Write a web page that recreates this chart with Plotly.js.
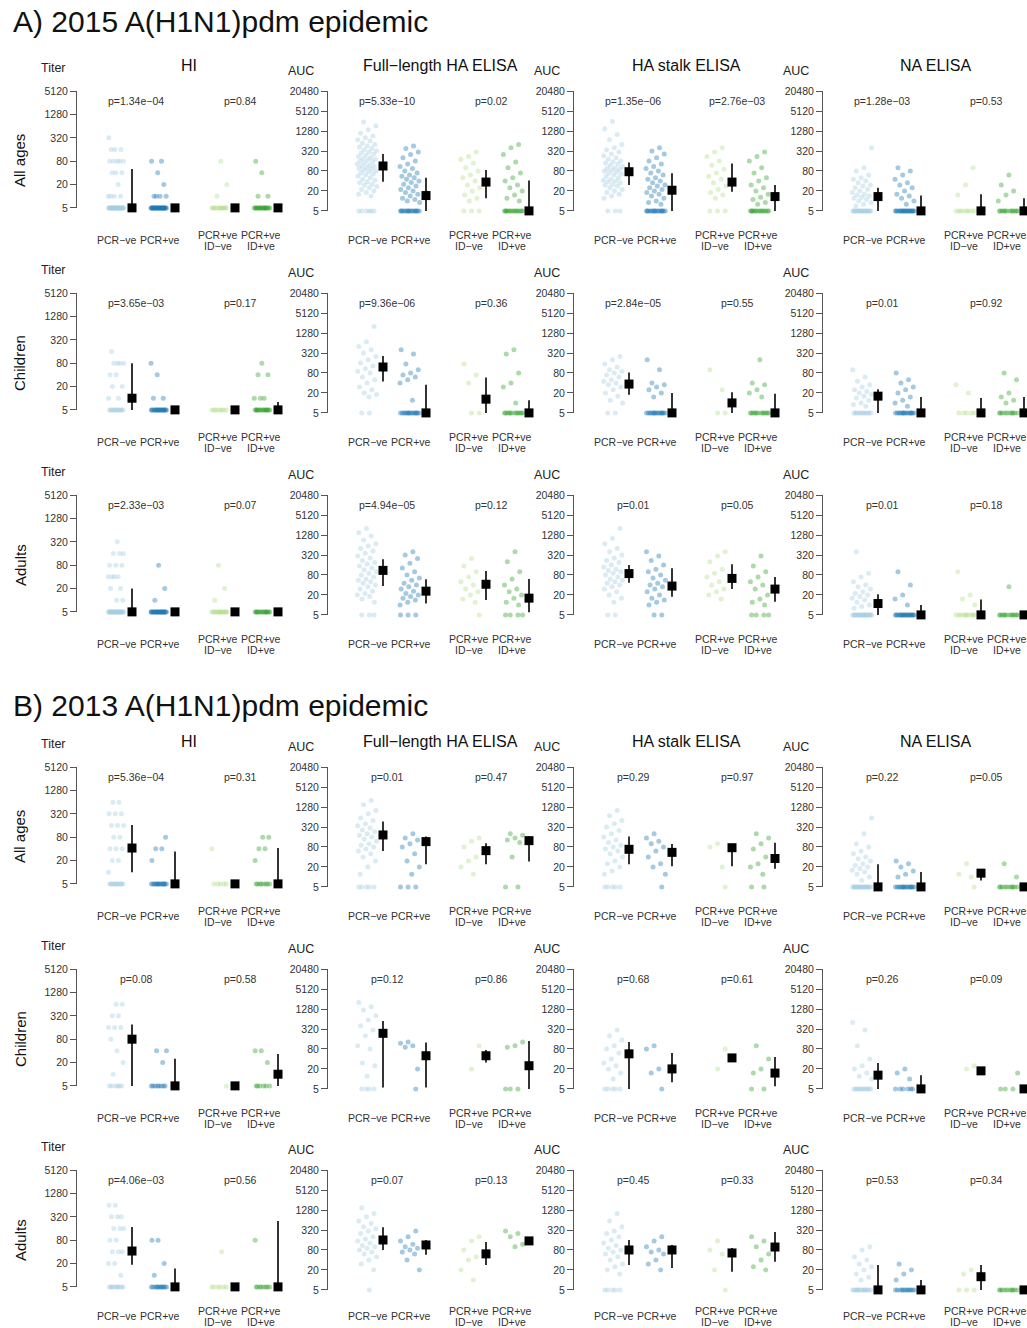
<!DOCTYPE html>
<html><head><meta charset="utf-8">
<script src="https://cdn.plot.ly/plotly-3.0.1.min.js"></script>
<style>html,body{margin:0;padding:0;background:#fff}</style>
</head><body><div id="chart" style="width:1027px;height:1328px"></div>
<script>
// ---------------- DATA ----------------
// HI groups: frequency tables [[titer, count], ...]
// ELISA groups: [number of samples at detection floor (5), [other AUC values]]
// Group order: PCR-ve, PCR+ve, PCR+ve ID-ve, PCR+ve ID+ve
// *_ci : [median, lower CI, upper CI] for each group

const groupLabels = [["PCR−ve"], ["PCR+ve"], ["PCR+ve", "ID−ve"], ["PCR+ve", "ID+ve"]];
const assayTitles = ["HI", "Full−length HA ELISA", "HA stalk ELISA", "NA ELISA"];
const rowLabels = ["All ages", "Children", "Adults"];
const sectionTitles = ["A) 2015 A(H1N1)pdm epidemic", "B) 2013 A(H1N1)pdm epidemic"];
const hiTicks = [5, 20, 80, 320, 1280, 5120];
const aucTicks = [5, 20, 80, 320, 1280, 5120, 20480];

// ===== A) 2015, All ages =====
const A_all_HI = [[[5,30],[10,4],[20,1],[40,3],[80,5],[160,3],[320,1]], [[5,30],[10,4],[20,1],[40,1],[80,2]], [[5,12],[10,1],[20,1],[80,1]], [[5,18],[10,2],[40,1],[80,1]]];
const A_all_HI_ci = [[5,5,50],[5,5,5],[5,5,5],[5,5,5]];
const A_all_FL = [[6,[2400,1800,1400,1100,900,800,700,640,560,500,450,420,380,350,320,300,280,260,240,220,200,190,180,170,160,150,140,130,120,115,110,100,95,90,85,80,75,70,65,60,55,50,45,42,38,35,32,30,27,25,22,20,18,16,14]],
  [16,[450,380,300,250,200,160,130,110,95,80,70,60,55,50,45,40,36,32,28,25,22,20,18,16,14,12,11,10,9]],
  [3,[300,220,180,140,100,80,60,50,40,30,25,20,15,12,10]],
  [14,[500,400,250,150,100,70,50,40,30,25,20,15,12,10]]];
const A_all_FL_ci = [[113,38,260],[14.5,5,50],[37,12,86],[5,5,41]];
const A_all_ST = [[3,[2500,1500,1000,700,500,400,350,300,260,230,200,180,160,150,140,130,120,110,100,95,90,85,80,75,70,65,60,55,50,45,42,40,38,35,32,30,28,25,22,20,18,16,14,12]],
  [16,[400,320,260,200,160,130,110,95,80,70,60,50,45,40,35,30,28,25,22,20,18,16,14,12,10,9,8]],
  [3,[400,300,220,160,120,90,70,55,45,35,28,22,18,15,12]],
  [14,[300,220,160,100,70,50,40,30,25,20,16,13,11,9,8]]];
const A_all_ST_ci = [[76,30,143],[21,5,68],[37,19,135],[13.5,5,30]];
const A_all_NA = [[20,[400,100,80,60,50,45,40,35,30,28,25,22,20,18,16,15,14,13,12,11,10,9,8,7]],
  [20,[100,80,60,45,35,30,25,20,16,14,12,10,8]],
  [8,[100,30,15]],
  [12,[60,30,20,15,10]]];
const A_all_NA_ci = [[13.5,5,25],[5,5,14.5],[5,5,16],[5,5,12]];
const pA_all = ["1.34e−04","0.84","5.33e−10","0.02","1.35e−06","2.76e−03","1.28e−03","0.53"];

// ===== A) 2015, Children =====
const A_ch_HI = [[[5,12],[10,2],[20,2],[40,2],[80,4],[160,1]], [[5,20],[10,2],[40,1],[80,1]], [[5,8]], [[5,15],[10,3],[40,2],[80,1]]];
const A_ch_HI_ci = [[10,5,80],[5,5,5],[5,5,5],[5,5,8]];
const A_ch_FL = [[2,[2000,700,500,400,320,250,200,160,130,110,90,80,60,50,40,30,25,20,18,15]],
  [15,[400,300,150,100,80,70,60,50,40,12]],
  [2,[150,70,40]],
  [12,[400,300,80,40,30,10]]];
const A_ch_FL_ci = [[121,44,260],[5,5,35],[13,5,58],[5,5,12]];
const A_ch_ST = [[2,[250,200,150,120,100,90,80,70,60,50,45,40,35,30,25,20,16,12,10]],
  [15,[200,100,40,35,30,25,20,15]],
  [2,[100,25]],
  [12,[200,40,35,25,20,15]]];
const A_ch_ST_ci = [[37,17.5,82],[5,5,20],[10,5,21],[5,5,19]];
const A_ch_NA = [[12,[100,60,45,35,30,25,22,20,18,16,14,12,10,9,8]],
  [15,[80,50,40,30,25,20,15,12,10,8]],
  [5,[35,20]],
  [10,[80,50,20,15,12,10]]];
const A_ch_NA_ci = [[16,5,26],[5,5,15],[5,5,14],[5,5,15]];
const pA_ch = ["3.65e−03","0.17","9.36e−06","0.36","2.84e−05","0.55","0.01","0.92"];

// ===== A) 2015, Adults =====
const A_ad_HI = [[[5,28],[10,2],[20,2],[40,4],[80,3],[160,3],[320,1]], [[5,25],[10,1],[20,1],[80,1]], [[5,15],[10,1],[20,1],[80,1]], [[5,15]]];
const A_ad_HI_ci = [[5,5,20],[5,5,5],[5,5,5],[5,5,5]];
const A_ad_FL = [[3,[2000,1500,1200,900,700,600,500,420,360,300,260,220,190,170,150,130,115,100,90,80,70,60,55,50,45,40,35,30,26,22,20,18,15,12]],
  [3,[400,320,250,180,130,100,80,65,55,45,40,35,30,26,22,20,18,16,14,12,10]],
  [1,[250,150,100,70,50,40,30,25,20,15,12]],
  [4,[400,200,100,60,40,30,25,20,16,12,10]]];
const A_ad_FL_ci = [[110,37,237],[26,11,59],[42,14,105],[16,6,60]];
const A_ad_ST = [[2,[2000,1000,700,500,400,320,260,220,190,160,140,120,110,100,90,80,70,60,55,50,45,40,35,30,25,20,16,12]],
  [2,[400,300,220,160,120,100,80,65,55,45,40,35,30,25,20,16,14,12,10]],
  [0,[400,300,200,120,90,70,50,40,30,25,20,15]],
  [4,[300,150,100,70,50,40,30,20,15,12,10]]];
const A_ad_ST_ci = [[88,47,160],[37,17.5,127],[63,30,167],[30,12.5,70]];
const A_ad_NA = [[22,[400,90,70,50,40,35,30,25,22,20,18,16,14,12,10,9,8]],
  [20,[100,40,20,15,10]],
  [10,[100,20,15,10]],
  [12,[35]]];
const A_ad_NA_ci = [[11,5,21],[5,5,10],[5,5,14.5],[5,5,5]];
const pA_ad = ["2.33e−03","0.07","4.94e−05","0.12","0.01","0.05","0.01","0.18"];

// ===== B) 2013, All ages =====
const B_all_HI = [[[5,12],[10,1],[20,2],[40,3],[80,2],[160,3],[320,3],[640,2]], [[5,15],[20,1],[40,2],[80,1]], [[5,5],[40,1]], [[5,8],[20,1],[40,2],[80,2]]];
const B_all_HI_ci = [[42,10,165],[5,5,34],[5,5,5],[5,5,42]];
const B_all_FL = [[5,[2000,1500,1000,800,600,500,400,350,300,260,230,200,180,160,140,120,100,90,80,70,60,50,40,30,20,12]],
  [3,[200,150,130,100,80,50,30,20,12]],
  [0,[150,120,80,40,30,20,12]],
  [2,[200,180,150,130,110,40]]];
const B_all_FL_ci = [[184,60,465],[116,24,165],[62,24,103],[124,29,165]];
const B_all_ST = [[5,[1000,700,500,400,320,250,200,160,130,110,90,80,70,60,50,40,30,25,20,15,12]],
  [1,[200,150,120,100,80,60,40,25,20,12]],
  [1,[100,80,20]],
  [2,[200,150,100,70,40,25,20,12]]];
const B_all_ST_ci = [[68,24,165],[55,21,98],[76,21,90],[36,17.5,108]];
const B_all_NA = [[20,[600,200,100,80,60,50,40,35,30,25,22,20,18,16,14,12,10,8]],
  [15,[30,25,20,15,12,10]],
  [1,[25,12,10]],
  [10,[25,10]]];
const B_all_NA_ci = [[5,5,24],[5,5,14],[13,7.8,16],[5,5,5]];
const pB_all = ["5.36e−04","0.31","0.01","0.47","0.29","0.97","0.22","0.05"];

// ===== B) 2013, Children =====
const B_ch_HI = [[[5,6],[10,1],[20,1],[40,1],[80,1],[160,3],[320,2],[640,2]], [[5,8],[20,1],[40,2]], [[5,1]], [[5,6],[20,1],[40,2]]];
const B_ch_HI_ci = [[80,5,190],[5,5,25],[5,5,5],[10,5,33]];
const B_ch_FL = [[4,[2000,1500,1200,800,600,400,300,200,100,80,30,25,12]],
  [1,[130,120,100,90,20]],
  [0,[100,20]],
  [3,[130,100,90]]];
const B_ch_FL_ci = [[237,5.5,555],[50,5.5,126],[50,31,75],[25,5,140]];
const B_ch_ST = [[5,[300,200,150,100,80,60,40,30,25,20,15,10]],
  [1,[100,80,20,15]],
  [0,[80,20]],
  [2,[100,40,20,15]]];
const B_ch_ST_ci = [[57,5,130],[20,8,60],[43,35,55],[15,6,46]];
const B_ch_NA = [[12,[500,300,100,40,25,20,15,12,10]],
  [6,[20,15,10]],
  [0,[25,20]],
  [3,[15]]];
const B_ch_NA_ci = [[13,5,30],[5,5,13],[17.5,17.5,17.5],[5,5,5]];
const pB_ch = ["0.08","0.58","0.12","0.86","0.68","0.61","0.26","0.09"];

// ===== B) 2013, Adults =====
const B_ad_HI = [[[5,10],[10,1],[20,2],[40,3],[80,2],[160,3],[320,3],[640,2]], [[5,12],[10,1],[20,1],[80,2]], [[5,6],[40,1]], [[5,8],[80,1]]];
const B_ad_HI_ci = [[42,18.5,175],[5,5,15],[5,5,5],[5,5,250]];
const B_ad_FL = [[1,[1500,1000,800,600,500,400,350,300,250,200,170,150,130,110,100,90,80,70,60,50,40,30,20]],
  [0,[300,200,150,120,100,90,80,70,60,40,20]],
  [0,[200,150,80,50,40,20,10]],
  [0,[300,250,200,120,100]]];
const B_ad_FL_ci = [[160,80,390],[113,57,160],[61,28,139],[150,150,150]];
const B_ad_ST = [[5,[1000,600,400,300,250,200,160,130,110,90,80,70,60,50,40,30,25,20,15]],
  [0,[200,150,100,80,70,60,40,30,20]],
  [1,[150,80,60,20]],
  [0,[200,150,100,60,40,25,20]]];
const B_ad_ST_ci = [[80,28,160],[80,23,113],[65,17.5,92],[98,35,280]];
const B_ad_NA = [[15,[100,80,50,40,30,25,20,15,12,10]],
  [12,[30,20,15,10]],
  [3,[20,15]],
  [10,[]]];
const B_ad_NA_ci = [[5,5,28],[5,5,10],[12.5,5,28],[5,5,5]];
const pB_ad = ["4.06e−03","0.56","0.07","0.13","0.45","0.33","0.53","0.34"];

// ---------------- LAYOUT / DRAWING ----------------
const W = 1027, H = 1328;
const FONT = '"Liberation Sans", Arial, Helvetica, sans-serif';
const colors = ['rgb(166,206,227)','rgb(31,120,180)','rgb(178,223,138)','rgb(51,160,44)'];
const axisX = [77, 328, 574, 823];
const grpOff = [39, 82, 142, 185], sqOff = 16;
const pOff = [59, 163];
const EPS = 0.003; // tiny log-range padding so that points at the axis ends stay visible

const sections = [
  {title: sectionTitles[0], titleY: 22, panelTitleY: 65, rowTops: [91, 293, 495],
   rows: [
     {p: pA_all, d: [A_all_HI, A_all_FL, A_all_ST, A_all_NA], ci: [A_all_HI_ci, A_all_FL_ci, A_all_ST_ci, A_all_NA_ci]},
     {p: pA_ch, d: [A_ch_HI, A_ch_FL, A_ch_ST, A_ch_NA], ci: [A_ch_HI_ci, A_ch_FL_ci, A_ch_ST_ci, A_ch_NA_ci]},
     {p: pA_ad, d: [A_ad_HI, A_ad_FL, A_ad_ST, A_ad_NA], ci: [A_ad_HI_ci, A_ad_FL_ci, A_ad_ST_ci, A_ad_NA_ci]}]},
  {title: sectionTitles[1], titleY: 705, panelTitleY: 741, rowTops: [767, 969, 1170],
   rows: [
     {p: pB_all, d: [B_all_HI, B_all_FL, B_all_ST, B_all_NA], ci: [B_all_HI_ci, B_all_FL_ci, B_all_ST_ci, B_all_NA_ci]},
     {p: pB_ch, d: [B_ch_HI, B_ch_FL, B_ch_ST, B_ch_NA], ci: [B_ch_HI_ci, B_ch_FL_ci, B_ch_ST_ci, B_ch_NA_ci]},
     {p: pB_ad, d: [B_ad_HI, B_ad_FL, B_ad_ST, B_ad_NA], ci: [B_ad_HI_ci, B_ad_FL_ci, B_ad_ST_ci, B_ad_NA_ci]}]}
];

function frac(x){ return x - Math.floor(x); }
function PX(x){ return x / W; }
function PY(y){ return 1 - y / H; }

const traces = [];
const ann = [];
const layout = {
  width: W, height: H, margin: {l:0, r:0, t:0, b:0},
  paper_bgcolor: '#fff', plot_bgcolor: 'rgba(0,0,0,0)',
  showlegend: false, font: {family: FONT, color: '#222'},
  hovermode: false
};

function txt(text, x, y, size, color, opts){
  return Object.assign({text: text, x: PX(x), y: PY(y), xref: 'paper', yref: 'paper',
    showarrow: false, xanchor: 'center', yanchor: 'middle',
    font: {family: FONT, size: size, color: color}}, opts || {});
}

let n = 0;
sections.forEach(sec => {
  ann.push(txt(sec.title, 11, sec.titleY, 30, '#111', {xanchor: 'left'}));
  assayTitles.forEach((t, c) => ann.push(txt(t, axisX[c] + 112, sec.panelTitleY, 16, '#111')));
  sec.rows.forEach((row, r) => {
    const top = sec.rowTops[r];
    ann.push(txt(rowLabels[r], 20, top + 70, 15, '#111', {textangle: -90}));
    // keep the two-line labels of the lowest row inside the page
    const shift = Math.max(0, top + 155 + 6 - H);
    for (let c = 0; c < 4; c++) {
      n++;
      const sfx = n > 1 ? String(n) : '';
      const xa = 'x' + sfx, ya = 'y' + sfx;
      const isHI = c === 0;
      const ticks = isHI ? hiTicks : aucTicks;
      const bottom = top + (isHI ? 117 : 120);
      layout['xaxis' + sfx] = {domain: [PX(axisX[c]), PX(axisX[c] + 204)], range: [0, 204],
        visible: false, anchor: ya, fixedrange: true};
      layout['yaxis' + sfx] = {domain: [PY(bottom), PY(top)], type: 'log',
        range: [Math.log10(ticks[0]) - EPS, Math.log10(ticks[ticks.length - 1]) + EPS], anchor: xa,
        tickvals: ticks, ticktext: ticks.map(String), showline: true, linecolor: '#555', linewidth: 1,
        ticks: 'outside', ticklen: 6, tickcolor: '#555', tickwidth: 1, showgrid: false, zeroline: false,
        tickfont: {family: FONT, size: 10.5, color: '#333'}, fixedrange: true};

      const groups = row.d[c];
      groups.forEach((g, k) => {
        let vals = [];
        if (isHI) { g.forEach(([t, cnt]) => { for (let i = 0; i < cnt; i++) vals.push(t); }); }
        else { for (let i = 0; i < g[0]; i++) vals.push(5); vals = vals.concat(g[1]); }
        const jw = isHI ? 16 : 20;
        const xs = vals.map((v, i) => grpOff[k] + jw * (frac((i + 1) * 0.618034 + 0.17 * k) - 0.5));
        traces.push({type: 'scatter', mode: 'markers', x: xs, y: vals, xaxis: xa, yaxis: ya,
          marker: {color: colors[k], size: 5, opacity: 0.4, line: {width: 0}}, cliponaxis: false, hoverinfo: 'skip'});
        const [m, lo, hi] = row.ci[c][k];
        const sx = grpOff[k] + sqOff;
        if (hi > lo) traces.push({type: 'scatter', mode: 'lines', x: [sx, sx], y: [lo, hi], xaxis: xa, yaxis: ya,
          line: {color: '#000', width: 1.6}, hoverinfo: 'skip'});
        traces.push({type: 'scatter', mode: 'markers', x: [sx], y: [m], xaxis: xa, yaxis: ya,
          marker: {symbol: 'square', size: 9, color: '#000'}, cliponaxis: false, hoverinfo: 'skip'});
      });

      // p-values
      ann.push(txt('p=' + row.p[2 * c], axisX[c] + pOff[0], top + 10, 10.5, '#333'));
      ann.push(txt('p=' + row.p[2 * c + 1], axisX[c] + pOff[1], top + 10, 10.5, '#333'));
      // group labels (one or two lines, placed line by line)
      for (let k = 0; k < 4; k++) {
        const lines = groupLabels[k];
        if (lines.length === 1) {
          ann.push(txt(lines[0], axisX[c] + grpOff[k] + 1, top + 149 - shift, 10.5, '#333'));
        } else {
          ann.push(txt(lines[0], axisX[c] + grpOff[k] - 1, top + 144 - shift, 10.5, '#333'));
          ann.push(txt(lines[1], axisX[c] + grpOff[k] - 1, top + 155 - shift, 10.5, '#333'));
        }
      }
      // axis unit label
      ann.push(txt(isHI ? 'Titer' : 'AUC', axisX[c] - (isHI ? 24 : 27), top - (isHI ? 23 : 20), 12.5, '#222'));
    }
  });
});
layout.annotations = ann;
Plotly.newPlot('chart', traces, layout, {staticPlot: true, displayModeBar: false});
</script></body></html>
